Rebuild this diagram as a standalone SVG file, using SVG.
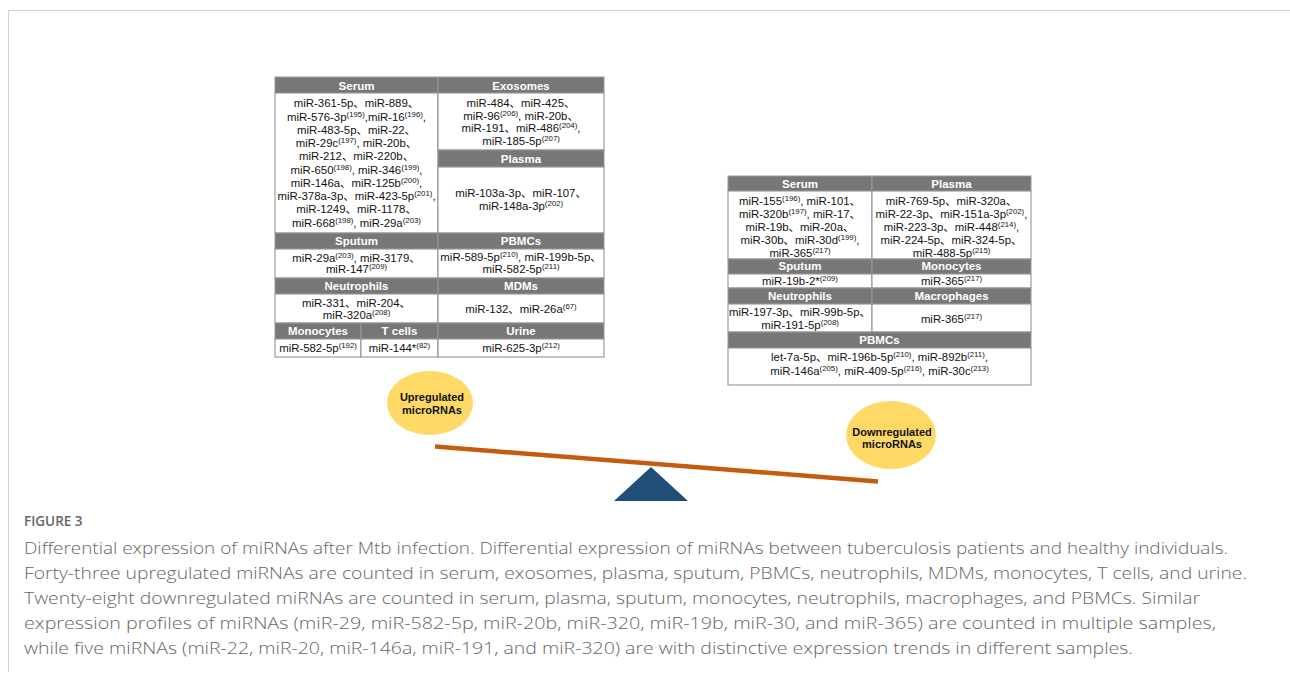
<svg xmlns="http://www.w3.org/2000/svg" width="1290" height="682" viewBox="0 0 1290 682">
<style>
.t{font-family:"Liberation Sans","Noto Sans CJK SC",Arial,sans-serif;font-size:11.4px;fill:#111;text-anchor:middle}
.s{font-size:7.8px}
.h{font-family:"Liberation Sans",Arial,sans-serif;font-size:11.5px;font-weight:bold;fill:#fff;text-anchor:middle}
.hd{fill:#777;stroke:#999;stroke-width:1}
.cell{fill:#fff;stroke:#8a8a8a;stroke-width:1}
.el{fill:#FFD966}
.et{font-family:"Liberation Sans",Arial,sans-serif;font-size:11px;font-weight:bold;fill:#111;text-anchor:middle}
.cap{font-family:"Open Sans","Liberation Sans",sans-serif;font-size:16px;font-weight:300;fill:#666}
</style>
<rect width="1290" height="682" fill="#fff"/>
<g id="frame"><path d="M8.5 672 V10.5 H1290" fill="none" stroke="#d0d0d0" stroke-width="1"/></g>

<g id="up-table">
<g id="up-serum">
<rect class="hd" x="275" y="77" width="163" height="16"/>
<text class="h" x="356.5" y="89.5">Serum</text>
<rect class="cell" x="275" y="93" width="163" height="140"/>
<text class="t" x="356.5" y="107.3">miR-361-5p、miR-889、</text>
<text class="t" x="356.5" y="120.6">miR-576-3p<tspan class="s" dy="-4">(195)</tspan><tspan dy="4">,miR-16</tspan><tspan class="s" dy="-4">(196)</tspan><tspan dy="4">,</tspan></text>
<text class="t" x="356.5" y="133.8">miR-483-5p、miR-22、</text>
<text class="t" x="356.5" y="147.1">miR-29c<tspan class="s" dy="-4">(197)</tspan><tspan dy="4">, miR-20b、</tspan></text>
<text class="t" x="356.5" y="160.3">miR-212、miR-220b、</text>
<text class="t" x="356.5" y="173.6">miR-650<tspan class="s" dy="-4">(198)</tspan><tspan dy="4">, miR-346</tspan><tspan class="s" dy="-4">(199)</tspan><tspan dy="4">,</tspan></text>
<text class="t" x="356.5" y="186.9">miR-146a、miR-125b<tspan class="s" dy="-4">(200)</tspan><tspan dy="4">,</tspan></text>
<text class="t" x="356.5" y="200.1">miR-378a-3p、miR-423-5p<tspan class="s" dy="-4">(201)</tspan><tspan dy="4">,</tspan></text>
<text class="t" x="356.5" y="213.4">miR-1249、miR-1178、</text>
<text class="t" x="356.5" y="226.6">miR-668<tspan class="s" dy="-4">(198)</tspan><tspan dy="4">, miR-29a</tspan><tspan class="s" dy="-4">(203)</tspan></text>
</g>
<g id="up-exosomes">
<rect class="hd" x="438" y="77" width="166" height="16"/>
<text class="h" x="521" y="89.5">Exosomes</text>
<rect class="cell" x="438" y="93" width="166" height="57"/>
<text class="t" x="521" y="107.3">miR-484、miR-425、</text>
<text class="t" x="521" y="119.8">miR-96<tspan class="s" dy="-4">(206)</tspan><tspan dy="4">, miR-20b、</tspan></text>
<text class="t" x="521" y="132.3">miR-191、miR-486<tspan class="s" dy="-4">(204)</tspan><tspan dy="4">,</tspan></text>
<text class="t" x="521" y="145">miR-185-5p<tspan class="s" dy="-4">(207)</tspan></text>
</g>
<g id="up-plasma">
<rect class="hd" x="438" y="150" width="166" height="17"/>
<text class="h" x="521" y="162.5">Plasma</text>
<rect class="cell" x="438" y="167" width="166" height="66"/>
<text class="t" x="521" y="197">miR-103a-3p、miR-107、</text>
<text class="t" x="521" y="209.5">miR-148a-3p<tspan class="s" dy="-4">(202)</tspan></text>
</g>
<g id="up-sputum">
<rect class="hd" x="275" y="233" width="163" height="16"/>
<text class="h" x="356.5" y="245.3">Sputum</text>
<rect class="cell" x="275" y="249" width="163" height="29"/>
<text class="t" x="356.5" y="261.8">miR-29a<tspan class="s" dy="-4">(203)</tspan><tspan dy="4">, miR-3179、</tspan></text>
<text class="t" x="356.5" y="273.3">miR-147<tspan class="s" dy="-4">(209)</tspan></text>
</g>
<g id="up-pbmcs">
<rect class="hd" x="438" y="233" width="166" height="16"/>
<text class="h" x="521" y="245.3">PBMCs</text>
<rect class="cell" x="438" y="249" width="166" height="29"/>
<text class="t" x="521" y="260.5">miR-589-5p<tspan class="s" dy="-4">(210)</tspan><tspan dy="4">, miR-199b-5p、</tspan></text>
<text class="t" x="521" y="272.5">miR-582-5p<tspan class="s" dy="-4">(211)</tspan></text>
</g>
<g id="up-neutrophils">
<rect class="hd" x="275" y="278" width="163" height="16"/>
<text class="h" x="356.5" y="290.3">Neutrophils</text>
<rect class="cell" x="275" y="294" width="163" height="29"/>
<text class="t" x="356.5" y="307">miR-331、miR-204、</text>
<text class="t" x="356.5" y="319">miR-320a<tspan class="s" dy="-4">(208)</tspan></text>
</g>
<g id="up-mdms">
<rect class="hd" x="438" y="278" width="166" height="16"/>
<text class="h" x="521" y="290.3">MDMs</text>
<rect class="cell" x="438" y="294" width="166" height="29"/>
<text class="t" x="521" y="312.7">miR-132、miR-26a<tspan class="s" dy="-4">(67)</tspan></text>
</g>
<g id="up-monocytes">
<rect class="hd" x="275" y="323" width="86" height="16"/>
<text class="h" x="318" y="335.3">Monocytes</text>
<rect class="cell" x="275" y="339" width="86" height="18"/>
<text class="t" x="318" y="352">miR-582-5p<tspan class="s" dy="-4">(192)</tspan></text>
</g>
<g id="up-tcells">
<rect class="hd" x="361" y="323" width="77" height="16"/>
<text class="h" x="399.5" y="335.3">T cells</text>
<rect class="cell" x="361" y="339" width="77" height="18"/>
<text class="t" x="399.5" y="352">miR-144*<tspan class="s" dy="-4">(82)</tspan></text>
</g>
<g id="up-urine">
<rect class="hd" x="438" y="323" width="166" height="16"/>
<text class="h" x="521" y="335.3">Urine</text>
<rect class="cell" x="438" y="339" width="166" height="18"/>
<text class="t" x="521" y="352">miR-625-3p<tspan class="s" dy="-4">(212)</tspan></text>
</g>
</g>

<g id="down-table">
<g id="down-serum">
<rect class="hd" x="728" y="176" width="144" height="15"/>
<text class="h" x="800" y="187.5">Serum</text>
<rect class="cell" x="728" y="191" width="144" height="68"/>
<text class="t" x="800" y="205.3">miR-155<tspan class="s" dy="-4">(196)</tspan><tspan dy="4">, miR-101、</tspan></text>
<text class="t" x="800" y="218.3">miR-320b<tspan class="s" dy="-4">(197)</tspan><tspan dy="4">, miR-17、</tspan></text>
<text class="t" x="800" y="231.3">miR-19b、miR-20a、</text>
<text class="t" x="800" y="244.3">miR-30b、miR-30d<tspan class="s" dy="-4">(199)</tspan><tspan dy="4">,</tspan></text>
<text class="t" x="800" y="257">miR-365<tspan class="s" dy="-4">(217)</tspan></text>
</g>
<g id="down-plasma">
<rect class="hd" x="872" y="176" width="159" height="15"/>
<text class="h" x="951.5" y="187.5">Plasma</text>
<rect class="cell" x="872" y="191" width="159" height="68"/>
<text class="t" x="951.5" y="205.3">miR-769-5p、miR-320a、</text>
<text class="t" x="951.5" y="218.3">miR-22-3p、miR-151a-3p<tspan class="s" dy="-4">(202)</tspan><tspan dy="4">,</tspan></text>
<text class="t" x="951.5" y="231.3">miR-223-3p、miR-448<tspan class="s" dy="-4">(214)</tspan><tspan dy="4">,</tspan></text>
<text class="t" x="951.5" y="244.3">miR-224-5p、miR-324-5p、</text>
<text class="t" x="951.5" y="257">miR-488-5p<tspan class="s" dy="-4">(215)</tspan></text>
</g>
<g id="down-sputum">
<rect class="hd" x="728" y="259" width="144" height="15"/>
<text class="h" x="800" y="270.3">Sputum</text>
<rect class="cell" x="728" y="274" width="144" height="14"/>
<text class="t" x="800" y="285.3">miR-19b-2*<tspan class="s" dy="-4">(209)</tspan></text>
</g>
<g id="down-monocytes">
<rect class="hd" x="872" y="259" width="159" height="15"/>
<text class="h" x="951.5" y="270.3">Monocytes</text>
<rect class="cell" x="872" y="274" width="159" height="14"/>
<text class="t" x="951.5" y="285.3">miR-365<tspan class="s" dy="-4">(217)</tspan></text>
</g>
<g id="down-neutrophils">
<rect class="hd" x="728" y="288" width="144" height="16"/>
<text class="h" x="800" y="300.3">Neutrophils</text>
<rect class="cell" x="728" y="304" width="144" height="28"/>
<text class="t" x="800" y="316">miR-197-3p、miR-99b-5p、</text>
<text class="t" x="800" y="328.5">miR-191-5p<tspan class="s" dy="-4">(208)</tspan></text>
</g>
<g id="down-macrophages">
<rect class="hd" x="872" y="288" width="159" height="16"/>
<text class="h" x="951.5" y="300.3">Macrophages</text>
<rect class="cell" x="872" y="304" width="159" height="28"/>
<text class="t" x="951.5" y="322.5">miR-365<tspan class="s" dy="-4">(217)</tspan></text>
</g>
<g id="down-pbmcs">
<rect class="hd" x="728" y="332" width="303" height="16"/>
<text class="h" x="879.5" y="344.3">PBMCs</text>
<rect class="cell" x="728" y="348" width="303" height="37"/>
<text class="t" x="879.5" y="360.7">let-7a-5p、miR-196b-5p<tspan class="s" dy="-4">(210)</tspan><tspan dy="4">, miR-892b</tspan><tspan class="s" dy="-4">(211)</tspan><tspan dy="4">,</tspan></text>
<text class="t" x="879.5" y="375">miR-146a<tspan class="s" dy="-4">(205)</tspan><tspan dy="4">, miR-409-5p</tspan><tspan class="s" dy="-4">(216)</tspan><tspan dy="4">, miR-30c</tspan><tspan class="s" dy="-4">(213)</tspan></text>
</g>
</g>

<g id="upregulated">
<ellipse class="el" cx="430" cy="403" rx="43" ry="32"/>
<text class="et" x="432" y="401">Upregulated</text>
<text class="et" x="432" y="414">microRNAs</text>
</g>
<g id="downregulated">
<ellipse class="el" cx="891" cy="435" rx="45" ry="34"/>
<text class="et" x="892" y="436">Downregulated</text>
<text class="et" x="892" y="448">microRNAs</text>
</g>

<g id="seesaw">
<line x1="435" y1="446.5" x2="878" y2="481.5" stroke="#C55A11" stroke-width="4.5"/>
<polygon points="651,467 688,501 614,501" fill="#1F4E79"/>
</g>

<g id="caption">
<text x="24" y="526" font-family="'Open Sans','Liberation Sans',sans-serif" font-size="13.5px" font-weight="600" fill="#666">FIGURE 3</text>
<text class="cap" x="24" y="553.5" textLength="1204" lengthAdjust="spacingAndGlyphs">Differential expression of miRNAs after Mtb infection. Differential expression of miRNAs between tuberculosis patients and healthy individuals.</text>
<text class="cap" x="24" y="578.5" textLength="1223" lengthAdjust="spacingAndGlyphs">Forty-three upregulated miRNAs are counted in serum, exosomes, plasma, sputum, PBMCs, neutrophils, MDMs, monocytes, T cells, and urine.</text>
<text class="cap" x="24" y="603.5" textLength="1176" lengthAdjust="spacingAndGlyphs">Twenty-eight downregulated miRNAs are counted in serum, plasma, sputum, monocytes, neutrophils, macrophages, and PBMCs. Similar</text>
<text class="cap" x="24" y="628.5" textLength="1192" lengthAdjust="spacingAndGlyphs">expression profiles of miRNAs (miR-29, miR-582-5p, miR-20b, miR-320, miR-19b, miR-30, and miR-365) are counted in multiple samples,</text>
<text class="cap" x="24" y="653.5" textLength="1109" lengthAdjust="spacingAndGlyphs">while five miRNAs (miR-22, miR-20, miR-146a, miR-191, and miR-320) are with distinctive expression trends in different samples.</text>
</g>
</svg>
